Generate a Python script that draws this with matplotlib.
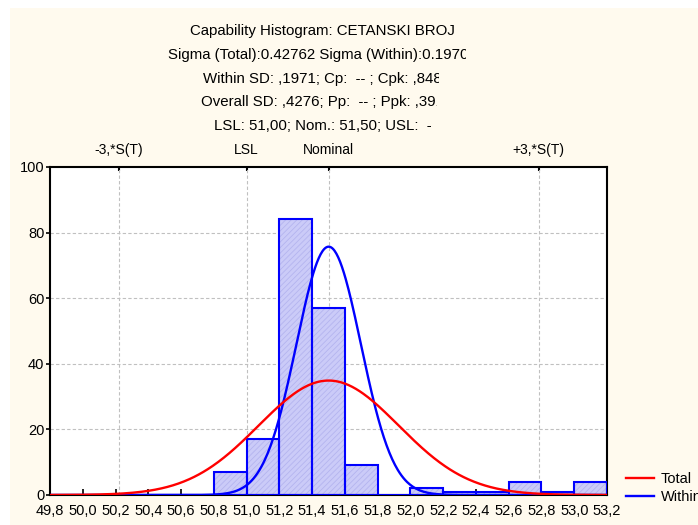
import numpy as np
import matplotlib
matplotlib.use("Agg")
import matplotlib.pyplot as plt
from matplotlib.patches import Rectangle
from matplotlib.transforms import Bbox, TransformedBbox

plt.rcParams['font.family'] = ['Liberation Sans', 'DejaVu Sans']
plt.rcParams['hatch.linewidth'] = 0.6

# histogram of CETANSKI BROJ, bin width 0.2
bin_edges = np.round(np.arange(49.8, 53.2001, 0.2), 1)
counts = [0, 0, 0, 0, 0, 7, 17, 84, 57, 9, 0, 2, 1, 1, 4, 1, 4]

mean = 51.501
sigma_total = 0.42762
sigma_within = 0.19708
lsl = 51.0
nominal = 51.5

title_lines = [
    "Capability Histogram: CETANSKI BROJ",
    "Sigma (Total):0.42762 Sigma (Within):0.19708",
    "Within SD: ,1971; Cp:  -- ; Cpk: ,848",
    "Overall SD: ,4276; Pp:  -- ; Ppk: ,391",
    "LSL: 51,00; Nom.: 51,50; USL:  -",
]
# right edge (pixels) where each header line gets cut off
clip_px = [698, 466, 439, 437, 698]

top_labels = ["-3,*S(T)", "LSL", "Nominal", "+3,*S(T)"]
top_pos = [mean - 3 * sigma_total, lsl, nominal, mean + 3 * sigma_total]

fig = plt.figure(figsize=(6.98, 5.25), dpi=100)
fig.patch.set_facecolor("white")
fig.patches.append(Rectangle((10 / 698, 0), 1, 1 - 8 / 525, transform=fig.transFigure,
                             facecolor="#fffaee", edgecolor="none", zorder=-10))

ax = fig.add_axes([50 / 698, 30 / 525, 557 / 698, 328 / 525])
ax.set_facecolor("white")

widths = np.diff(bin_edges)
ax.bar(bin_edges[:-1], counts, width=widths, align="edge",
       facecolor="#cbcbf8", edgecolor="#b4b4ef", hatch="//////", linewidth=0, zorder=2)
ax.bar(bin_edges[:-1], counts, width=widths, align="edge",
       facecolor="none", edgecolor="#0000ff", linewidth=1.5, zorder=3)

x = np.linspace(bin_edges[0], bin_edges[-1], 600)
n = sum(counts)
bw = 0.2


def normal_curve(s):
    return n * bw * np.exp(-0.5 * ((x - mean) / s) ** 2) / (s * np.sqrt(2 * np.pi))


ax.plot(x, normal_curve(sigma_total), color="#ff0000", lw=1.7, zorder=5, label="Total")
ax.plot(x, normal_curve(sigma_within), color="#0000ff", lw=1.7, zorder=4, label="Within")

ax.set_xlim(bin_edges[0], bin_edges[-1])
ax.set_ylim(0, 100)
ax.set_xticks(bin_edges)
ax.set_xticklabels([f"{v:.1f}".replace(".", ",") for v in bin_edges])
ax.set_yticks([0, 20, 40, 60, 80, 100])
ax.tick_params(axis="x", direction="in", length=4, width=1.2, labelsize=10.5, pad=6.5)
ax.tick_params(axis="y", direction="out", length=3, width=1.2, labelsize=10.5, pad=1)

for y in [20, 40, 60, 80]:
    ax.axhline(y, color="#c0c0c0", lw=0.8, ls=(0, (3, 2)), zorder=1)
for xp in top_pos:
    ax.axvline(xp, color="#c0c0c0", lw=0.8, ls=(0, (3, 2)), zorder=1)

for sp in ax.spines.values():
    sp.set_linewidth(1.5)
    sp.set_color("black")

top = ax.secondary_xaxis("top")
top.set_xticks(top_pos)
top.set_xticklabels(top_labels)
top.tick_params(direction="in", length=3, width=1.5, labelsize=10, pad=7)
top.spines["top"].set_visible(False)

cx = 322.5 / 698
for i, (line, cp) in enumerate(zip(title_lines, clip_px)):
    t = fig.text(cx, 1 - (31 + 23.8 * i) / 525, line, ha="center", va="center", fontsize=10.8)
    t.set_clip_box(TransformedBbox(Bbox.from_extents(0, 0, cp / 698, 1), fig.transFigure))
    t.set_clip_on(True)

fig.legend(loc="lower left", bbox_to_anchor=(620 / 698, 15 / 525), frameon=False,
           fontsize=10.5, handlelength=1.9, handletextpad=0.5, labelspacing=0.3,
           borderaxespad=0)

fig.savefig("out.png", dpi=100, facecolor=fig.get_facecolor())
